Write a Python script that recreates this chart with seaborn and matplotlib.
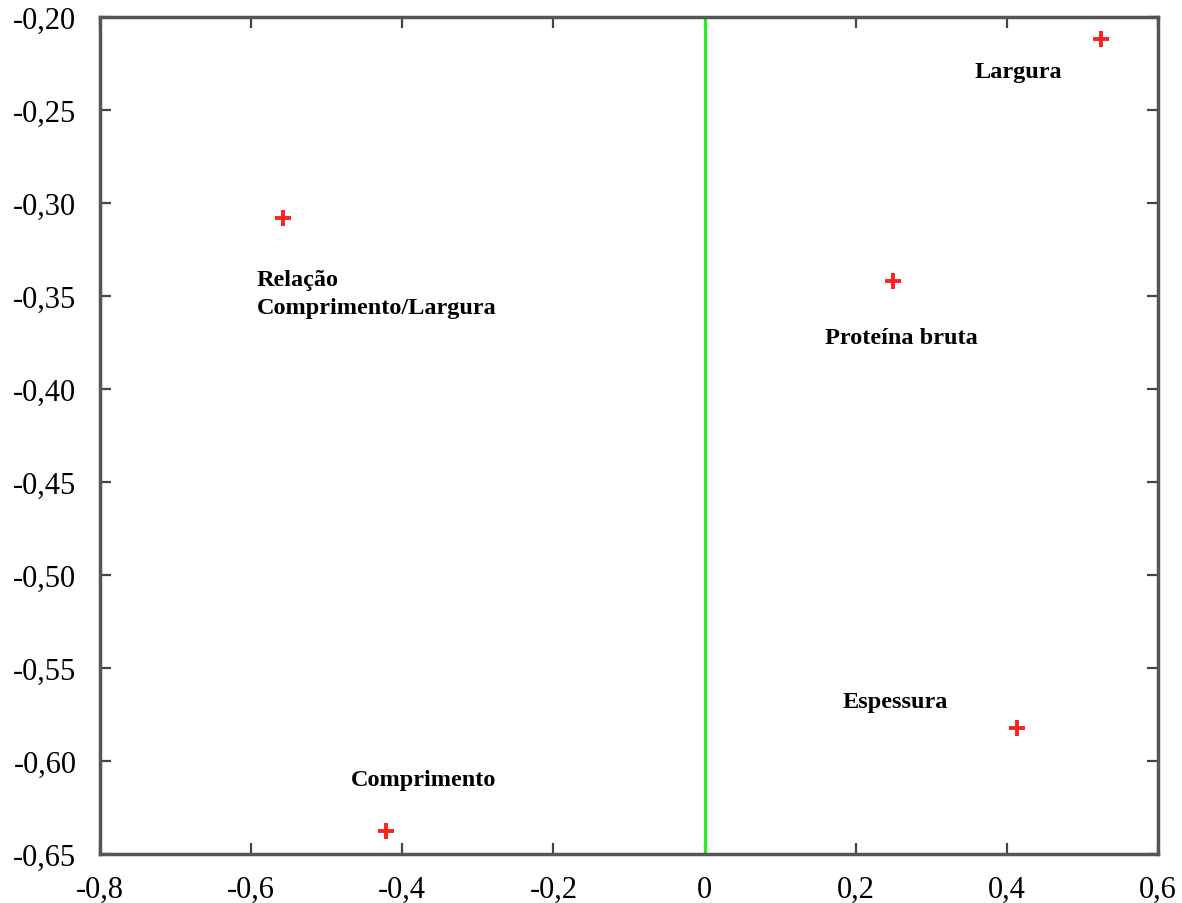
import matplotlib
matplotlib.use("Agg")
import matplotlib.pyplot as plt
import seaborn as sns
import pandas as pd

# Data
variables = ["Largura", "Relação\nComprimento/Largura", "Proteína bruta", "Espessura", "Comprimento"]
x_vals = [0.524, -0.558, 0.249, 0.414, -0.422]
y_vals = [-0.212, -0.308, -0.3417, -0.5822, -0.6376]

x_ticks = [-0.8, -0.6, -0.4, -0.2, 0.0, 0.2, 0.4, 0.6]
x_tick_labels = ["-0,8", "-0,6", "-0,4", "-0,2", "0", "0,2", "0,4", "0,6"]
y_ticks = [-0.65, -0.60, -0.55, -0.50, -0.45, -0.40, -0.35, -0.30, -0.25, -0.20]
y_tick_labels = ["-0,65", "-0,60", "-0,55", "-0,50", "-0,45", "-0,40", "-0,35", "-0,30", "-0,25", "-0,20"]

# label offsets in points (style) and alignment
label_offsets = [(-59, -23, "center", "center"),
                 (-19, -37, "left", "top"),
                 (6, -41, "center", "center"),
                 (-88, 19, "center", "center"),
                 (27, 37, "center", "center")]

df = pd.DataFrame({"x": x_vals, "y": y_vals, "var": variables})

sns.set_theme(style="white")
plt.rcParams["font.family"] = ["Liberation Serif", "DejaVu Serif"]

fig = plt.figure(figsize=(11.82, 9.04), dpi=100)
ax = fig.add_axes([100 / 1182, 1 - 855 / 904, 1058 / 1182, 837 / 904])

ax.axvline(0, color="#22ee22", lw=2.2, zorder=1)

sns.scatterplot(data=df, x="x", y="y", marker="+", s=130, color="#ff2020",
                linewidth=2.8, ax=ax, zorder=3)

for (xv, yv, name), (dx, dy, ha, va) in zip(zip(x_vals, y_vals, variables), label_offsets):
    ax.annotate(name, (xv, yv), xytext=(dx, dy), textcoords="offset points",
                ha=ha, va=va, fontsize=17.5, fontweight="bold", color="black",
                linespacing=1.4)

ax.set_xlim(-0.8, 0.6)
ax.set_ylim(-0.65, -0.20)
ax.set_xticks(x_ticks)
ax.set_xticklabels(x_tick_labels)
ax.set_yticks(y_ticks)
ax.set_yticklabels(y_tick_labels)
ax.set_xlabel("")
ax.set_ylabel("")

ax.tick_params(axis="both", which="major", direction="in", length=8, width=1.6,
               color="#444444", labelsize=22, top=True, right=True,
               left=True, bottom=True, labelcolor="black")
ax.tick_params(axis="x", pad=15)
ax.tick_params(axis="y", pad=17)

for sp in ax.spines.values():
    sp.set_visible(True)
    sp.set_color("#555555")
    sp.set_linewidth(2.5)

fig.savefig("out.png", dpi=100)
